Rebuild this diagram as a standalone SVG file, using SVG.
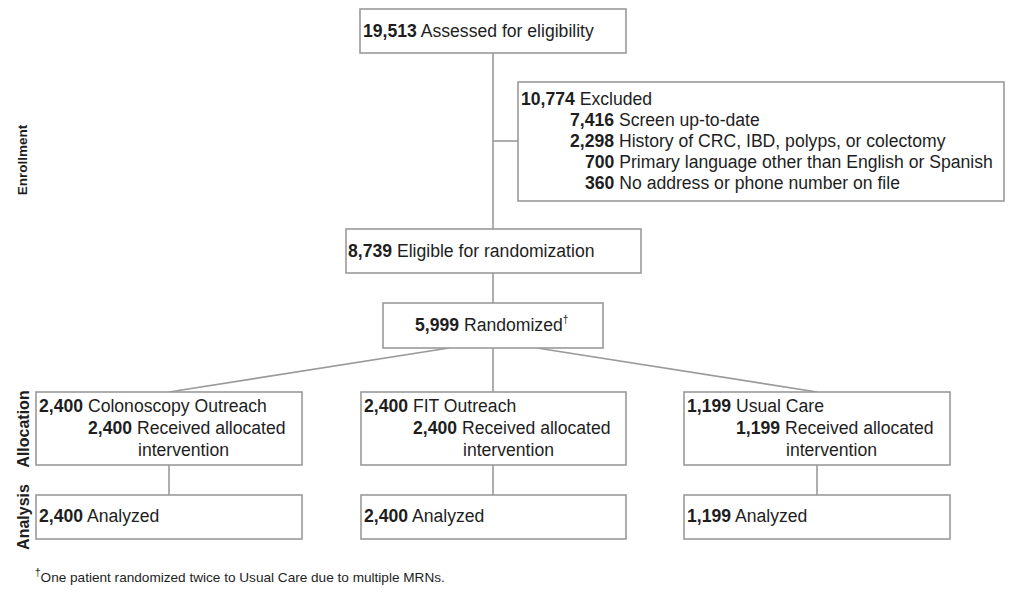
<svg xmlns="http://www.w3.org/2000/svg" width="1012" height="593" viewBox="0 0 1012 593">
<style>
  .box { fill: #ffffff; stroke: #9a9a9a; stroke-width: 1.6; }
  .ln { stroke: #9a9a9a; stroke-width: 1.6; fill: none; }
  text { font-family: "Liberation Sans", Arial, sans-serif; font-size: 17.6px; fill: #1e1e1e; }
  .b { font-weight: bold; }
  .side { font-weight: bold; font-size: 16px; text-anchor: middle; }
  .foot { font-size: 13.6px; }
  .sup { font-size: 10px; }
</style>
<rect width="1012" height="593" fill="#ffffff"/>
<g id="connectors">
  <line class="ln" x1="493" y1="53" x2="493" y2="229"/>
  <line class="ln" x1="493" y1="141" x2="518" y2="141"/>
  <line class="ln" x1="493" y1="273" x2="493" y2="303"/>
  <line class="ln" x1="493" y1="348" x2="493" y2="392"/>
  <line class="ln" x1="449" y1="348" x2="169" y2="392"/>
  <line class="ln" x1="537" y1="348" x2="817" y2="392"/>
  <line class="ln" x1="169" y1="465" x2="169" y2="495"/>
  <line class="ln" x1="493" y1="465" x2="493" y2="495"/>
  <line class="ln" x1="817" y1="465" x2="817" y2="495"/>
</g>
<g id="side-labels">
  <text class="side" style="font-size:13.5px" transform="translate(27,160) rotate(-90)">Enrollment</text>
  <text class="side" transform="translate(29,429) rotate(-90)">Allocation</text>
  <text class="side" transform="translate(29,517) rotate(-90)">Analysis</text>
</g>
<g id="assessed">
  <rect class="box" x="360" y="9" width="266" height="44"/>
  <text x="363" y="37"><tspan class="b">19,513</tspan> Assessed for eligibility</text>
</g>
<g id="excluded">
  <rect class="box" x="518" y="82" width="486" height="119"/>
  <text x="521" y="105"><tspan class="b">10,774</tspan> Excluded</text>
  <text x="570" y="126"><tspan class="b">7,416</tspan> Screen up-to-date</text>
  <text x="570" y="147"><tspan class="b">2,298</tspan> History of CRC, IBD, polyps, or colectomy</text>
  <text x="585" y="168"><tspan class="b">700</tspan> Primary language other than English or Spanish</text>
  <text x="585" y="189"><tspan class="b">360</tspan> No address or phone number on file</text>
</g>
<g id="eligible">
  <rect class="box" x="346" y="229" width="295" height="44"/>
  <text x="348" y="257"><tspan class="b">8,739</tspan> Eligible for randomization</text>
</g>
<g id="randomized">
  <rect class="box" x="383" y="303" width="220" height="45"/>
  <text x="415" y="331"><tspan class="b">5,999</tspan> Randomized<tspan class="sup" dy="-8">†</tspan></text>
</g>
<g id="colonoscopy">
  <rect class="box" x="36" y="392" width="266" height="73"/>
  <text x="39" y="412"><tspan class="b">2,400</tspan> Colonoscopy Outreach</text>
  <text x="88" y="434"><tspan class="b">2,400</tspan> Received allocated</text>
  <text x="138" y="456">intervention</text>
</g>
<g id="fit">
  <rect class="box" x="361" y="392" width="265" height="73"/>
  <text x="364" y="412"><tspan class="b">2,400</tspan> FIT Outreach</text>
  <text x="413" y="434"><tspan class="b">2,400</tspan> Received allocated</text>
  <text x="463" y="456">intervention</text>
</g>
<g id="usual">
  <rect class="box" x="684" y="392" width="266" height="73"/>
  <text x="687" y="412"><tspan class="b">1,199</tspan> Usual Care</text>
  <text x="736" y="434"><tspan class="b">1,199</tspan> Received allocated</text>
  <text x="786" y="456">intervention</text>
</g>
<g id="analyzed-colonoscopy">
  <rect class="box" x="36" y="495" width="266" height="44"/>
  <text x="39" y="522"><tspan class="b">2,400</tspan> Analyzed</text>
</g>
<g id="analyzed-fit">
  <rect class="box" x="361" y="495" width="265" height="44"/>
  <text x="364" y="522"><tspan class="b">2,400</tspan> Analyzed</text>
</g>
<g id="analyzed-usual">
  <rect class="box" x="684" y="495" width="266" height="44"/>
  <text x="687" y="522"><tspan class="b">1,199</tspan> Analyzed</text>
</g>
<g id="footnote">
  <text class="foot" x="35" y="582"><tspan class="sup" dy="-6">†</tspan><tspan dy="6">One patient randomized twice to Usual Care due to multiple MRNs.</tspan></text>
</g>
</svg>
